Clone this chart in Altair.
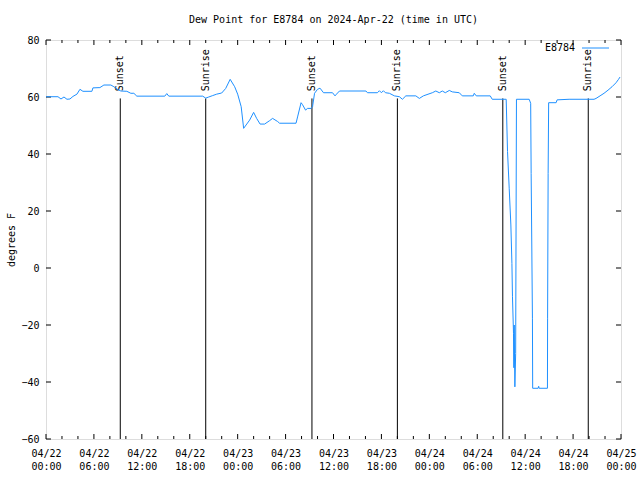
import altair as alt
import pandas as pd

# Time in hours since 2024-04-22 00:00 UTC, dew point in deg F
hours = [0, 1.5, 1.875, 2.25, 2.625, 3.0, 3.375, 3.875, 4.25, 4.625, 5.75, 5.875,
         6.75, 7.25, 8.125, 8.5, 9.0, 9.375, 10.125, 10.625, 11.0, 11.375, 14.875,
         15.125, 15.375, 19.625, 20.0, 20.375, 20.875, 21.375, 22.0, 22.5, 23.06,
         23.625, 24.0, 24.44, 24.75, 25.5, 26.0, 26.375, 26.81, 27.375, 28.0, 28.375,
         29.0, 29.25, 31.31, 31.5, 31.94, 32.125, 32.5, 32.75, 33.19, 33.375, 33.625,
         34.0, 34.31, 34.75, 35.875, 36.19, 36.375, 36.75, 40.06, 40.25, 41.5, 41.75,
         42.0, 42.25, 42.5, 43.0, 43.625, 44.25, 44.625, 45.06, 46.31, 46.75, 47.25,
         48.375, 48.81, 49.25, 49.625, 50.0, 50.5, 50.875, 51.75, 52.125, 53.5, 53.625,
         53.875, 55.625, 55.875, 57.625, 57.79, 58.0, 58.21, 58.34, 58.41, 58.54,
         58.59, 58.625, 58.71, 58.81, 58.91, 60.5, 60.69, 60.75, 60.91, 60.94, 61.625,
         61.69, 61.75, 62.79, 62.81, 62.875, 62.94, 63.875, 64.0, 65.5, 68.625, 68.875,
         69.375, 69.875, 70.375, 70.875, 71.375, 71.69, 71.875]
dewpoint = [60.1, 60.1, 59.3, 60.0, 59.2, 59.3, 60.2, 61.0, 62.7, 62.0, 62.0, 63.2,
            63.3, 64.2, 64.2, 63.6, 62.6, 62.1, 62.0, 61.3, 61.3, 60.3, 60.3,
            61.2, 60.3, 60.3, 59.6, 60.0, 60.5, 61.0, 61.4, 63.0, 66.2,
            63.6, 61.0, 56.6, 49.0, 51.9, 54.6, 52.5, 50.5, 50.5, 51.7, 52.5,
            51.4, 50.8, 50.8, 53.0, 58.0, 57.3, 55.4, 56.0, 56.0, 56.6, 61.3,
            62.7, 63.1, 61.5, 61.5, 60.4, 61.0, 62.1, 62.1, 61.5, 61.5, 62.2,
            61.5, 62.2, 61.5, 61.3, 60.4, 60.1, 59.2, 60.4, 60.4, 59.5, 60.4,
            61.5, 62.1, 61.5, 62.1, 61.5, 62.3, 61.8, 61.5, 60.4, 60.4, 61.3,
            60.4, 60.4, 59.2, 59.2, 40.9, 28.0, 15.1, 1.6, -10.1, -23.0,
            -35.0, -20.0, -41.7, -30.0, 59.2, 59.2, 57.8, 33.2, -17.6, -42.2, -42.2,
            -41.5, -42.2, -42.2, -17.6, 33.2, 58.0, 58.0, 59.0, 59.2, 59.2, 59.5,
            60.4, 61.3, 62.4, 63.6, 65.0, 66.2, 67.0]

sun_hours = [9.3, 20.0, 33.3, 44.0, 57.2, 67.9]
sun_labels = ["Sunset", "Sunrise", "Sunset", "Sunrise", "Sunset", "Sunrise"]
sun_top = 59.5
sun_label_y = 62

major_x = [0, 6, 12, 18, 24, 30, 36, 42, 48, 54, 60, 66, 72]
minor_x = [h for h in range(0, 73, 2) if h % 6 != 0]
y_ticks = [-60, -40, -20, 0, 20, 40, 60, 80]

FONT = "DejaVu Sans Mono"
BLUE = "#1e90ff"
W, H = 575, 399

df = pd.DataFrame({"h": hours, "v": dewpoint})
sun = pd.DataFrame({"h": sun_hours, "label": sun_labels,
                    "top": [sun_top] * 6, "ly": [sun_label_y] * 6})
majors = pd.DataFrame({"h": major_x})
minors = pd.DataFrame({"h": minor_x})
yt = pd.DataFrame({"v": y_ticks})

xscale = alt.Scale(domain=[0, 72], nice=False, zero=False)
yscale = alt.Scale(domain=[-60, 80], nice=False, zero=False)

label_expr = ("['04/' + (22 + floor(datum.value / 24)), "
              "(datum.value % 24 < 10 ? '0' : '') + (datum.value % 24) + ':00']")

xaxis = alt.Axis(values=major_x, labelExpr=label_expr, title=None, grid=False,
                 ticks=False, domain=False, labelPadding=9, labelLineHeight=13,
                 labelFlush=False, labelOverlap=False, labelAlign="center",
                 labelFont=FONT, labelFontSize=10, labelColor="black")
yaxis = alt.Axis(values=y_ticks, title="degrees F", grid=False, ticks=False,
                 domain=False, labelPadding=7, labelFont=FONT, labelFontSize=10,
                 labelFlush=False, labelOverlap=False,
                 labelColor="black", titleFont=FONT, titleFontSize=10,
                 titleFontWeight="normal", titleColor="black", titleAngle=270,
                 titleX=-35, titleY=H / 2, titleAlign="center", titleBaseline="middle")

line = alt.Chart(df).mark_line(color=BLUE, strokeWidth=1, clip=True).encode(
    x=alt.X("h:Q", scale=xscale, axis=xaxis),
    y=alt.Y("v:Q", scale=yscale, axis=yaxis),
)

sun_rules = alt.Chart(sun).mark_rule(color="black", strokeWidth=1).encode(
    x=alt.X("h:Q", scale=xscale),
    y=alt.Y("top:Q", scale=yscale),
    y2=alt.datum(-60),
)

sun_text = alt.Chart(sun).mark_text(angle=270, align="left", baseline="middle",
                                    font=FONT, fontSize=10, color="black").encode(
    x=alt.X("h:Q", scale=xscale),
    y=alt.Y("ly:Q", scale=yscale),
    text="label:N",
)

tick_b_major = alt.Chart(majors).mark_rule(color="black").encode(
    x=alt.X("h:Q", scale=xscale), y=alt.value(H), y2=alt.value(H - 5))
tick_t_major = alt.Chart(majors).mark_rule(color="black").encode(
    x=alt.X("h:Q", scale=xscale), y=alt.value(0), y2=alt.value(5))
tick_b_minor = alt.Chart(minors).mark_rule(color="black").encode(
    x=alt.X("h:Q", scale=xscale), y=alt.value(H), y2=alt.value(H - 3))
tick_t_minor = alt.Chart(minors).mark_rule(color="black").encode(
    x=alt.X("h:Q", scale=xscale), y=alt.value(0), y2=alt.value(3))
tick_l = alt.Chart(yt).mark_rule(color="black").encode(
    y=alt.Y("v:Q", scale=yscale), x=alt.value(0), x2=alt.value(5))
tick_r = alt.Chart(yt).mark_rule(color="black").encode(
    y=alt.Y("v:Q", scale=yscale), x=alt.value(W), x2=alt.value(W - 5))

legend_text = alt.Chart().mark_text(align="right", baseline="middle", font=FONT,
                                    fontSize=10, color="black", text="E8784").encode(
    x=alt.value(529), y=alt.value(8))
legend_line = alt.Chart().mark_rule(color=BLUE, strokeWidth=1).encode(
    x=alt.value(536), x2=alt.value(563), y=alt.value(8))

chart = alt.layer(
    sun_rules, sun_text, tick_b_major, tick_t_major, tick_b_minor, tick_t_minor,
    tick_l, tick_r, line, legend_text, legend_line,
).properties(
    width=W, height=H,
    title=alt.TitleParams("Dew Point for E8784 on 2024-Apr-22 (time in UTC)",
                          font=FONT, fontSize=10, fontWeight="normal", color="black",
                          anchor="middle", offset=10),
    autosize=alt.AutoSizeParams(type="none"),
    padding={"left": 46, "top": 40, "right": 19, "bottom": 41},
).configure_view(
    stroke="black", strokeWidth=1
).configure(background="white")

chart.save("out.html", embed_options={"renderer": "svg", "actions": False})
